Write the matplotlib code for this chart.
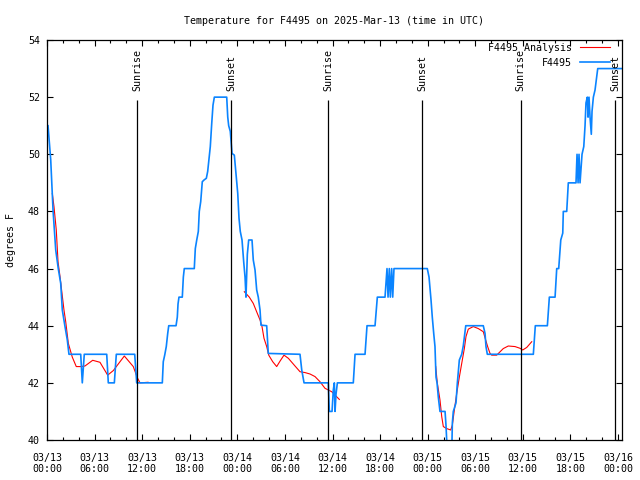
import matplotlib
matplotlib.use("Agg")
import matplotlib.pyplot as plt
from matplotlib.ticker import MultipleLocator

plt.rcParams['font.family'] = ['DejaVu Sans Mono', 'DejaVu Sans']

# Hours since 2025-03-13 00:00 UTC
obs_hours = [0.13, 0.47, 0.76, 1.10, 1.42, 1.73, 1.93, 2.27, 2.56, 2.77,
             4.25, 4.45, 4.70, 7.53, 7.73, 8.49, 8.74, 11.06, 11.31, 14.54,
             14.66, 14.84, 15.04, 15.22, 15.35, 16.27, 16.43, 16.52, 16.64, 17.06,
             17.19, 17.31, 18.57, 18.70, 18.88, 19.08, 19.20, 19.38, 19.58, 19.80,
             20.09, 20.26, 20.43, 20.59, 20.77, 20.93, 21.10, 22.66, 22.79, 22.91,
             23.11, 23.33, 23.62, 23.83, 24.05, 24.21, 24.37, 24.59, 24.80, 24.97,
             25.09, 25.26, 25.43, 25.85, 26.01, 26.23, 26.44, 26.64, 26.86, 26.98,
             27.70, 27.90, 31.90, 32.12, 32.41, 35.47, 35.60, 35.94, 36.10, 36.23,
             36.32, 36.44, 36.61, 38.62, 38.84, 40.10, 40.35, 41.36, 41.65, 42.62,
             42.87, 43.00, 43.16, 43.29, 43.46, 43.59, 43.75, 43.97, 47.95, 48.17,
             48.42, 48.58, 48.76, 48.92, 49.05, 49.18, 49.34, 49.55, 50.19, 50.31,
             50.48, 51.03, 51.11, 51.23, 51.57, 51.74, 51.99, 52.29, 52.49, 52.62,
             52.80, 55.01, 55.23, 55.35, 55.52, 61.32, 61.57, 63.09, 63.34, 64.06,
             64.27, 64.52, 64.78, 65.03, 65.10, 65.53, 65.73, 66.70, 66.83, 66.96,
             67.08, 67.21, 67.46, 67.68, 67.84, 67.96, 68.13, 68.22, 68.34, 68.47,
             68.63, 68.72, 68.89, 69.10, 69.44, 72.47]
obs_temps = [51.0, 49.8, 48.05, 46.65, 46.0, 45.48, 44.55, 43.97, 43.5, 43.0,
             43.0, 42.0, 43.0, 43.0, 42.0, 42.0, 43.0, 43.0, 42.0, 42.0,
             42.74, 42.97, 43.27, 43.73, 44.0, 44.0, 44.3, 44.76, 45.0, 45.0,
             45.7, 46.0, 46.0, 46.7, 47.0, 47.3, 48.0, 48.34, 49.04, 49.1,
             49.16, 49.4, 49.86, 50.27, 51.08, 51.72, 52.0, 52.0, 51.3, 51.0,
             50.8, 50.03, 49.97, 49.33, 48.63, 47.76, 47.3, 47.0, 46.24, 45.7,
             45.0, 46.5, 47.0, 47.0, 46.3, 45.95, 45.25, 45.0, 44.55, 44.02,
             44.0, 43.03, 43.0, 42.45, 42.0, 42.0, 41.0, 41.0, 41.75, 42.0,
             41.0, 41.6, 42.0, 42.0, 43.0, 43.0, 44.0, 44.0, 45.0, 45.0,
             46.0, 45.0, 46.0, 45.0, 46.0, 45.0, 46.0, 46.0, 46.0, 45.7,
             44.9, 44.3, 43.73, 43.27, 42.2, 42.0, 41.5, 41.0, 41.0, 40.5,
             39.5, 39.5, 40.6, 41.0, 41.3, 42.0, 42.8, 43.0, 43.3, 43.6,
             44.0, 44.0, 43.73, 43.27, 43.0, 43.0, 44.0, 44.0, 45.0, 45.0,
             46.0, 46.0, 47.0, 47.24, 48.0, 48.0, 49.0, 49.0, 50.0, 49.0,
             50.0, 49.0, 50.0, 50.27, 51.0, 51.8, 52.0, 51.3, 52.0, 51.3,
             50.7, 51.5, 52.0, 52.25, 53.0, 53.0]

ana1_hours = [0.67, 0.88, 1.17, 1.39, 1.64, 2.14, 2.36, 2.69, 3.19, 3.69, 4.25,
              4.79, 5.76, 6.68, 7.65, 8.36, 9.75, 10.88, 11.39, 11.73, 12.74]
ana1_temps = [48.63, 48.17, 47.35, 46.24, 45.72, 44.55, 44.14, 43.38, 42.9, 42.57, 42.57,
              42.59, 42.79, 42.72, 42.27, 42.43, 42.94, 42.57, 42.18, 42.0, 42.02]
ana2_hours = [24.88, 25.51, 26.01, 26.52, 26.86, 27.11, 27.36, 27.70, 27.96, 28.46,
              28.96, 29.38, 29.88, 30.43, 31.27, 31.90, 32.53, 33.16, 33.79, 34.42,
              35.05, 35.47, 35.90, 36.32, 36.86]
ana2_temps = [45.19, 45.0, 44.78, 44.43, 44.2, 43.97, 43.56, 43.27, 42.97, 42.74,
              42.57, 42.76, 42.97, 42.86, 42.59, 42.39, 42.36, 42.31, 42.22, 42.04,
              41.81, 41.75, 41.69, 41.57, 41.42]
ana3_hours = [49.01, 49.21, 49.55, 49.77, 49.97, 50.40, 50.90, 51.11, 51.36, 51.66,
              51.99, 52.29, 52.62, 52.83, 53.12, 53.75, 54.38, 55.01, 55.31, 55.56,
              55.86, 56.07, 56.70, 57.53, 58.16, 59.01, 59.64, 59.98, 60.49, 61.12]
ana3_temps = [42.57, 42.0, 41.4, 40.82, 40.47, 40.4, 40.35, 40.52, 41.05, 41.63,
              42.2, 42.68, 43.2, 43.62, 43.88, 43.97, 43.9, 43.79, 43.5, 43.27,
              43.03, 42.97, 42.97, 43.2, 43.29, 43.27, 43.21, 43.15, 43.24, 43.44]

sun_hours = [11.39, 23.24, 35.47, 47.32, 59.71, 71.62]
sun_labels = ["Sunrise", "Sunset", "Sunrise", "Sunset", "Sunrise", "Sunset"]

tick_hours = [0, 6, 12, 18, 24, 30, 36, 42, 48, 54, 60, 66, 72]
tick_labels = ["03/13\n00:00", "03/13\n06:00", "03/13\n12:00", "03/13\n18:00",
               "03/14\n00:00", "03/14\n06:00", "03/14\n12:00", "03/14\n18:00",
               "03/15\n00:00", "03/15\n06:00", "03/15\n12:00", "03/15\n18:00",
               "03/16\n00:00"]

FS = 7.2

fig = plt.figure(figsize=(6.4, 4.8), dpi=100)
ax = fig.add_axes([47/640, 40/480, 575/640, 400/480])

red = '#ff0000'
blue = '#0a84ff'
ax.plot(ana1_hours, ana1_temps, color=red, lw=0.8, label='F4495 Analysis')
ax.plot(ana2_hours, ana2_temps, color=red, lw=0.8)
ax.plot(ana3_hours, ana3_temps, color=red, lw=0.8)
ax.plot(obs_hours, obs_temps, color=blue, lw=1.2, label='F4495')

ax.vlines(sun_hours, 40, 51.9, color='black', lw=0.9)
for h, s in zip(sun_hours, sun_labels):
    ax.text(h, 52.2, s, rotation=90, ha='center', va='bottom', fontsize=FS)

ax.set_xlim(0, 72.5)
ax.set_ylim(40, 54)
ax.set_xticks(tick_hours, tick_labels)
ax.xaxis.set_minor_locator(MultipleLocator(2))
ax.yaxis.set_major_locator(MultipleLocator(2))
for lab in ax.get_xticklabels():
    lab.set_linespacing(1.25)
ax.tick_params(which='both', direction='in', top=True, right=True, labelsize=FS, colors='black')
ax.tick_params(which='major', length=4, width=0.8)
ax.tick_params(which='minor', length=2, width=0.8)
ax.tick_params(axis='x', pad=9)
ax.tick_params(axis='y', pad=5)
for sp in ax.spines.values():
    sp.set_linewidth(0.9)
    sp.set_color('black')

ax.set_ylabel('degrees F', fontsize=FS)
ax.yaxis.set_label_coords(-0.054, 0.5)
ax.set_title('Temperature for F4495 on 2025-Mar-13 (time in UTC)', fontsize=FS, pad=11.5)

ax.legend(loc='upper right', bbox_to_anchor=(1 - 12/575, 1 - 3/400), frameon=False,
          markerfirst=False, fontsize=FS, handlelength=3.0, handletextpad=0.8,
          labelspacing=0.5, borderpad=0, borderaxespad=0)

fig.savefig('out.png', dpi=100)
